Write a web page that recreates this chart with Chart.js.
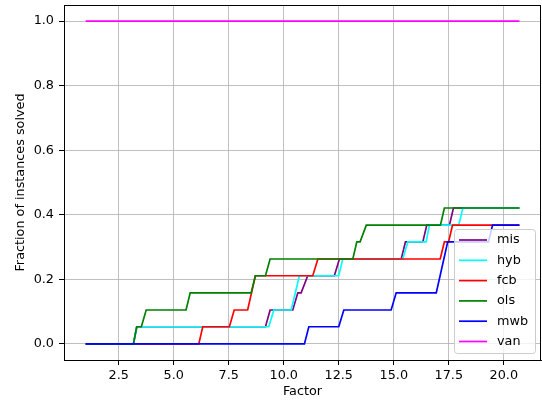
<!DOCTYPE html>
<html>
<head>
<meta charset="utf-8">
<script src="https://cdn.jsdelivr.net/npm/chart.js@4/dist/chart.umd.min.js"></script>
<style>
  body { margin: 0; background: #fff; }
  canvas { display: block; }
</style>
</head>
<body>
<canvas id="myChart" width="542" height="403"></canvas>
<script>
// step curves: factor -> fraction of instances solved
const misX = [1, 3.17, 3.32, 9.17, 9.38, 10.41, 10.64, 10.79, 11.09, 12.3, 12.53, 15.34, 15.53, 16.32, 16.5, 17.53, 17.71, 20.71];
const misY = [0, 0, 0.053, 0.053, 0.105, 0.105, 0.158, 0.158, 0.211, 0.211, 0.263, 0.263, 0.316, 0.316, 0.368, 0.368, 0.421, 0.421];

const hybX = [1, 3.17, 3.32, 9.32, 9.55, 10.34, 10.71, 12.5, 12.68, 15.41, 15.64, 16.47, 16.62, 17.95, 18.14, 20.71];
const hybY = [0, 0, 0.053, 0.053, 0.105, 0.105, 0.211, 0.211, 0.263, 0.263, 0.316, 0.316, 0.368, 0.368, 0.421, 0.421];

const fcbX = [1, 6.14, 6.32, 7.53, 7.75, 8.36, 8.71, 11.32, 11.55, 17.11, 17.3, 17.49, 17.67, 20.71];
const fcbY = [0, 0, 0.053, 0.053, 0.105, 0.105, 0.211, 0.211, 0.263, 0.263, 0.316, 0.316, 0.368, 0.368];

const olsX = [1, 3.17, 3.32, 3.53, 3.75, 5.56, 5.75, 8.52, 8.71, 9.17, 9.38, 13.14, 13.32, 13.47, 13.75, 17.12, 17.3, 20.71];
const olsY = [0, 0, 0.053, 0.053, 0.105, 0.105, 0.158, 0.158, 0.211, 0.211, 0.263, 0.263, 0.316, 0.316, 0.368, 0.368, 0.421, 0.421];

const mwbX = [1, 10.94, 11.14, 12.5, 12.73, 14.88, 15.11, 16.93, 17.45, 19.3, 19.49, 20.71];
const mwbY = [0, 0, 0.053, 0.053, 0.105, 0.105, 0.158, 0.158, 0.316, 0.316, 0.368, 0.368];

const vanX = [1, 20.71];
const vanY = [1, 1];

const labels = ["mis", "hyb", "fcb", "ols", "mwb", "van"];
const colors = ["#800080", "#00ffff", "#ff0000", "#008000", "#0000ff", "#ff00ff"];

const xTicks = [2.5, 5.0, 7.5, 10.0, 12.5, 15.0, 17.5, 20.0];
const yTicks = [0.0, 0.2, 0.4, 0.6, 0.8, 1.0];

const FONT = "'DejaVu Sans', sans-serif";
const FS = 12.8;

function pts(xs, ys) {
  return xs.map((x, i) => ({ x: x, y: ys[i] }));
}

const series = [
  pts(misX, misY),
  pts(hybX, hybY),
  pts(fcbX, fcbY),
  pts(olsX, olsY),
  pts(mwbX, mwbY),
  pts(vanX, vanY),
];

// top + right spines, and the matplotlib style legend in the lower right
const framePlugin = {
  id: "frame",
  afterDraw(chart) {
    const { ctx, chartArea: a } = chart;
    ctx.save();
    ctx.strokeStyle = "#000";
    ctx.lineWidth = 1;
    ctx.strokeRect(a.left + 0.5, a.top + 0.5, a.right - a.left - 1, a.bottom - a.top);

    const w = 81, h = 124;
    const bx = a.right - 6 - w, by = a.bottom - 7 - h;
    ctx.beginPath();
    ctx.roundRect(bx + 0.5, by + 0.5, w, h, 3);
    ctx.fillStyle = "rgba(255,255,255,0.8)";
    ctx.fill();
    ctx.strokeStyle = "#cccccc";
    ctx.stroke();

    ctx.font = FS + "px " + FONT;
    ctx.textBaseline = "middle";
    ctx.textAlign = "left";
    labels.forEach((lab, i) => {
      const y = by + 11 + i * 20.3;
      ctx.beginPath();
      ctx.moveTo(bx + 5, y);
      ctx.lineTo(bx + 33, y);
      ctx.strokeStyle = colors[i];
      ctx.lineWidth = 1.7;
      ctx.stroke();
      ctx.fillStyle = "#000";
      ctx.fillText(lab, bx + 43, y);
    });
    ctx.restore();
  },
};

const ctx = document.getElementById("myChart").getContext("2d");
const myChart = new Chart(ctx, {
  type: "line",
  data: {
    datasets: series.map((d, i) => ({
      label: labels[i],
      data: d,
      borderColor: colors[i],
      backgroundColor: colors[i],
      borderWidth: 1.7,
      pointRadius: 0,
      tension: 0,
      fill: false,
      order: series.length - i,
    })),
  },
  options: {
    responsive: false,
    animation: false,
    devicePixelRatio: 1,
    layout: { padding: { top: 5, right: 1, left: 0, bottom: 0 } },
    plugins: {
      legend: { display: false },
      tooltip: { enabled: false },
    },
    scales: {
      x: {
        type: "linear",
        position: "bottom",
        min: 0.015,
        max: 21.69,
        afterBuildTicks: (s) => { s.ticks = xTicks.map((v) => ({ value: v })); },
        afterFit: (s) => {
          s.height = 43;
          s.paddingLeft = 0;
          s.paddingRight = 0;
        },
        ticks: {
          callback: (v) => v.toFixed(1),
          color: "#000",
          font: { family: FONT, size: FS },
          padding: 3,
          maxRotation: 0,
        },
        grid: { color: "#b0b0b0", lineWidth: 0.8, tickColor: "#000", tickLength: 5, tickWidth: 1 },
        border: { display: true, color: "#000", width: 1 },
        title: {
          display: true,
          text: "Factor",
          color: "#000",
          font: { family: FONT, size: FS },
          padding: { top: 0, bottom: 3.5 },
        },
      },
      y: {
        type: "linear",
        min: -0.05,
        max: 1.05,
        afterBuildTicks: (s) => { s.ticks = yTicks.map((v) => ({ value: v })); },
        afterFit: (s) => {
          s.width = 64;
          s.paddingTop = 0;
          s.paddingBottom = 0;
        },
        ticks: {
          callback: (v) => v.toFixed(1),
          color: "#000",
          font: { family: FONT, size: FS },
          padding: 5,
        },
        grid: { color: "#b0b0b0", lineWidth: 0.8, tickColor: "#000", tickLength: 5, tickWidth: 1 },
        border: { display: true, color: "#000", width: 1 },
        title: {
          display: true,
          text: "Fraction of instances solved",
          color: "#000",
          font: { family: FONT, size: FS },
          padding: { top: 13, bottom: 0 },
        },
      },
    },
  },
  plugins: [framePlugin],
});
</script>
</body>
</html>
